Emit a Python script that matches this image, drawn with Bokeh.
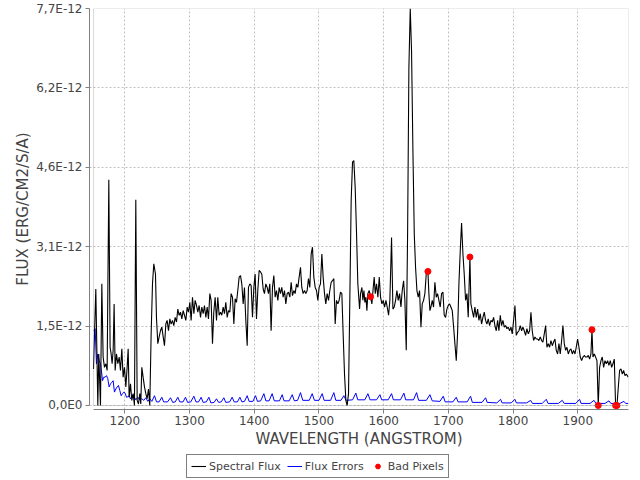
from bokeh.plotting import figure
from bokeh.layouts import column
from bokeh.models import Range1d, FixedTicker, Legend, LegendItem, BoxAnnotation
from bokeh.embed import file_html
from bokeh.resources import INLINE

# ---- data (flux in units of 1E-12 erg/cm2/s/A) ----
flux_wl = [1151.6, 1155.2, 1158.3, 1159.8, 1162.4, 1164.5, 1166.5, 1168.6, 1170.7, 1172.7,
           1175.3, 1177.3, 1178.9, 1180.4, 1182.0, 1183.5, 1185.1, 1187.1, 1189.2, 1191.3,
           1193.3, 1195.4, 1197.4, 1199.5, 1201.6, 1203.6, 1205.2, 1206.7, 1208.8, 1210.8,
           1212.9, 1214.9, 1217.0, 1219.1, 1221.1, 1223.2, 1224.7, 1226.3, 1228.3, 1230.4,
           1232.5, 1234.5, 1236.6, 1238.6, 1240.7, 1242.8, 1244.8, 1247.4, 1248.9, 1251.0,
           1253.1, 1255.1, 1257.2, 1259.3, 1261.3, 1263.4, 1265.4, 1267.5, 1269.6, 1271.6,
           1273.7, 1275.7, 1277.8, 1279.9, 1281.9, 1284.0, 1286.1, 1288.1, 1290.2, 1292.2,
           1294.3, 1296.4, 1298.4, 1300.5, 1302.5, 1304.6, 1306.7, 1308.7, 1310.8, 1312.8,
           1314.9, 1317.0, 1319.0, 1321.1, 1323.1, 1325.2, 1327.3, 1329.3, 1331.4, 1333.4,
           1335.5, 1337.5, 1339.6, 1341.7, 1343.7, 1345.8, 1347.9, 1349.9, 1352.0, 1354.0,
           1356.1, 1358.2, 1360.2, 1362.3, 1364.3, 1366.4, 1368.5, 1370.5, 1372.6, 1374.6,
           1376.7, 1378.8, 1380.8, 1382.9, 1384.9, 1387.0, 1389.1, 1391.1, 1393.2, 1395.2,
           1397.3, 1399.4, 1401.4, 1403.5, 1405.5, 1407.6, 1409.7, 1411.7, 1413.8, 1415.8,
           1417.9, 1420.0, 1422.0, 1424.1, 1426.1, 1428.2, 1430.3, 1432.3, 1434.4, 1436.5,
           1438.5, 1440.6, 1442.6, 1444.7, 1446.8, 1448.8, 1450.9, 1452.9, 1455.0, 1457.1,
           1459.1, 1461.2, 1463.2, 1465.3, 1467.4, 1469.4, 1471.5, 1473.5, 1475.6, 1477.7,
           1479.7, 1481.8, 1483.8, 1485.9, 1488.0, 1490.0, 1492.1, 1494.2, 1496.2, 1498.3,
           1500.3, 1502.4, 1504.5, 1506.5, 1508.6, 1510.6, 1512.7, 1514.8, 1516.8, 1518.9,
           1520.9, 1523.0, 1525.1, 1527.1, 1529.2, 1531.2, 1533.3, 1535.4, 1537.4, 1539.5,
           1541.6, 1543.6, 1545.7, 1547.7, 1549.8, 1551.9, 1553.9, 1556.0, 1558.1, 1560.1,
           1562.8, 1564.3, 1566.4, 1567.9, 1569.5, 1571.0, 1572.6, 1574.1, 1575.6, 1577.7,
           1579.8, 1581.8, 1583.9, 1585.4, 1587.0, 1589.0, 1591.1, 1593.2, 1595.2, 1597.3,
           1599.3, 1601.4, 1603.5, 1605.5, 1607.6, 1609.6, 1612.2, 1614.3, 1616.3, 1618.4,
           1620.5, 1622.5, 1624.6, 1626.7, 1628.7, 1630.8, 1632.8, 1634.9, 1637.0, 1639.0,
           1641.1, 1643.1, 1645.2, 1647.3, 1649.3, 1651.4, 1653.4, 1655.5, 1657.6, 1659.6,
           1661.7, 1663.7, 1665.8, 1668.4, 1669.9, 1671.5, 1673.0, 1675.1, 1677.1, 1679.2,
           1681.3, 1683.3, 1685.4, 1687.4, 1689.5, 1691.6, 1693.6, 1695.7, 1697.7, 1699.8,
           1701.9, 1703.9, 1706.0, 1708.1, 1710.1, 1712.2, 1714.2, 1716.3, 1718.4, 1720.4,
           1722.5, 1724.5, 1726.6, 1728.7, 1730.7, 1733.3, 1734.8, 1736.9, 1739.0, 1741.0,
           1743.1, 1745.2, 1747.2, 1749.3, 1751.3, 1753.4, 1755.5, 1757.5, 1759.6, 1761.6,
           1763.7, 1765.8, 1767.8, 1769.9, 1771.9, 1774.0, 1776.1, 1778.1, 1780.2, 1782.2,
           1784.3, 1786.4, 1788.4, 1790.5, 1792.5, 1794.6, 1796.7, 1798.7, 1800.8, 1802.9,
           1804.9, 1807.0, 1809.0, 1811.1, 1813.2, 1815.2, 1817.3, 1819.3, 1821.4, 1823.5,
           1825.5, 1827.6, 1829.6, 1831.7, 1833.8, 1835.8, 1837.9, 1839.9, 1842.0, 1844.1,
           1846.1, 1848.2, 1850.3, 1852.3, 1854.4, 1856.4, 1858.5, 1860.6, 1862.6, 1864.7,
           1866.7, 1868.8, 1870.9, 1872.9, 1875.0, 1877.0, 1879.1, 1881.2, 1883.2, 1885.3,
           1887.3, 1889.4, 1891.5, 1893.5, 1895.6, 1897.6, 1899.7, 1901.8, 1903.8, 1905.9,
           1908.0, 1910.0, 1912.1, 1914.1, 1916.2, 1918.3, 1920.3, 1921.9, 1923.4, 1925.5,
           1927.5, 1929.6, 1931.6, 1933.7, 1935.8, 1937.8, 1939.9, 1942.0, 1944.0, 1946.1,
           1948.1, 1950.2, 1952.3, 1954.3, 1956.4, 1958.4, 1960.5, 1962.6, 1964.6, 1966.7,
           1968.8, 1970.8, 1972.9, 1974.9, 1978.0]

flux_val = [0.71, 2.26, 0.00, 1.00, 0.00, 2.36, 0.94, 0.74, 0.81, 0.68,
            4.38, 1.13, 1.00, 0.81, 1.07, 1.97, 0.68, 1.00, 0.81, 0.94,
            0.68, 1.10, 0.55, 0.74, 0.36, 0.74, 1.10, 0.16, 0.42, 0.10,
            0.23, 0.00, 3.99, 0.10, 0.03, 0.23, 0.03, 0.74, 0.55, 0.36,
            0.23, 0.13, 0.32, 0.00, 1.39, 2.36, 2.75, 2.55, 1.71, 1.20,
            1.33, 1.45, 1.52, 1.33, 1.16, 1.58, 1.65, 1.45, 1.68, 1.58,
            1.65, 1.55, 1.71, 1.62, 1.87, 1.75, 1.81, 1.68, 1.84, 1.75,
            1.65, 1.91, 1.81, 2.00, 1.65, 2.10, 1.78, 2.04, 1.94, 1.81,
            1.94, 1.71, 1.91, 1.78, 1.94, 1.71, 1.91, 1.68, 2.17, 2.04,
            1.20, 1.81, 2.10, 1.65, 2.10, 1.75, 1.81, 1.75, 1.91, 1.78,
            2.00, 1.71, 1.84, 1.81, 2.17, 2.10, 1.58, 2.07, 2.00, 2.23,
            2.49, 2.52, 2.36, 1.97, 2.29, 1.65, 1.16, 2.29, 2.36, 2.33,
            1.71, 2.29, 2.55, 1.68, 2.23, 2.62, 2.59, 2.55, 2.26, 2.17,
            2.36, 2.29, 2.17, 2.36, 1.45, 2.29, 2.52, 2.10, 2.23, 2.04,
            2.29, 2.17, 2.29, 2.10, 2.23, 1.97, 2.17, 2.20, 2.10, 2.39,
            2.13, 2.23, 2.17, 2.36, 2.29, 2.49, 2.68, 2.29, 2.17, 2.23,
            2.17, 2.23, 2.46, 2.29, 2.94, 3.07, 2.49, 2.29, 2.23, 2.04,
            2.29, 2.36, 2.94, 2.49, 2.17, 1.97, 2.17, 2.04, 2.23, 2.39,
            2.42, 2.46, 1.58, 2.04, 1.97, 2.04, 2.20, 2.17, 1.39, 0.61,
            0.10, 0.00, 0.23, 2.04, 3.98, 4.72, 4.75, 4.23, 3.33, 2.36,
            1.87, 2.17, 2.29, 2.04, 2.23, 2.00, 2.10, 1.84, 2.17, 2.23,
            2.11, 1.97, 2.29, 2.49, 2.17, 2.36, 2.10, 2.49, 2.10, 1.97,
            2.04, 1.91, 2.04, 1.91, 1.75, 2.04, 3.26, 1.87, 1.91, 2.04,
            2.23, 2.04, 2.17, 1.91, 2.23, 2.42, 2.04, 1.07, 3.33, 6.56,
            7.70, 6.88, 4.95, 3.33, 2.68, 2.23, 2.10, 2.23, 1.52, 1.97,
            2.04, 2.17, 2.55, 2.60, 2.17, 1.84, 1.91, 2.04, 1.91, 2.39,
            2.10, 2.17, 2.04, 1.91, 2.17, 2.20, 1.75, 1.71, 1.87, 1.94,
            1.97, 1.91, 1.84, 1.52, 1.20, 0.87, 1.39, 2.36, 3.01, 3.54,
            2.94, 2.55, 2.04, 2.17, 1.71, 2.88, 1.97, 1.84, 1.71, 1.91,
            1.71, 1.87, 1.65, 1.78, 1.58, 1.71, 1.81, 1.65, 1.58, 1.68,
            1.55, 1.65, 1.62, 1.71, 1.55, 1.45, 1.65, 1.45, 1.75, 1.55,
            1.65, 1.52, 1.55, 1.49, 1.52, 1.45, 1.52, 1.39, 1.65, 1.94,
            1.36, 1.42, 1.45, 1.55, 1.45, 1.52, 1.45, 1.36, 1.49, 1.39,
            1.45, 1.81, 1.45, 1.26, 1.33, 1.29, 1.29, 1.26, 1.33, 1.26,
            1.23, 1.39, 1.55, 1.13, 1.20, 1.13, 1.26, 1.16, 1.23, 1.29,
            1.07, 1.00, 1.20, 1.00, 1.26, 1.55, 1.20, 1.07, 1.13, 1.00,
            1.07, 1.10, 1.00, 1.07, 1.00, 1.13, 1.29, 1.13, 0.94, 0.87,
            0.94, 0.97, 0.94, 0.94, 0.97, 0.90, 1.00, 1.47, 0.94, 1.00,
            0.94, 0.87, 0.00, 0.74, 0.87, 0.94, 0.74, 0.87, 0.81, 0.87,
            0.78, 0.87, 0.74, 0.81, 0.90, 0.00, 0.00, 0.36, 0.68, 0.71,
            0.61, 0.68, 0.58, 0.61, 0.55]

err_wl = [1152.1, 1154.2, 1156.2, 1158.3, 1160.4, 1162.4, 1164.5, 1165.5, 1167.6, 1169.6,
          1171.7, 1173.7, 1175.8, 1177.9, 1179.9, 1182.0, 1184.0, 1186.1, 1188.2, 1190.2,
          1192.3, 1194.4, 1196.4, 1198.5, 1200.5, 1202.6, 1204.7, 1206.7, 1208.8, 1210.8,
          1212.9, 1214.9, 1217.0, 1220.1, 1223.2, 1226.3, 1229.4, 1232.5, 1235.6, 1238.6,
          1241.8, 1245.9, 1249.0, 1253.0, 1257.2, 1260.0, 1266.0, 1270.6, 1274.0, 1278.0,
          1281.9, 1285.0, 1290.0, 1293.8, 1297.0, 1302.0, 1306.7, 1310.0, 1314.0, 1318.0,
          1321.0, 1326.0, 1329.9, 1333.0, 1338.0, 1341.7, 1345.0, 1349.0, 1353.0, 1356.0,
          1362.0, 1365.9, 1369.0, 1374.0, 1377.8, 1381.0, 1385.0, 1389.1, 1392.0, 1398.0,
          1402.0, 1405.0, 1410.0, 1414.9, 1418.0, 1423.0, 1427.7, 1431.0, 1439.0, 1443.2,
          1446.0, 1454.0, 1458.7, 1462.0, 1467.0, 1471.5, 1475.0, 1485.0, 1489.6, 1493.0,
          1500.0, 1505.0, 1508.0, 1518.0, 1523.0, 1526.0, 1534.0, 1538.5, 1542.0, 1552.0,
          1557.0, 1560.0, 1571.0, 1575.6, 1579.0, 1589.0, 1594.2, 1597.0, 1607.0, 1612.2,
          1615.0, 1626.0, 1631.3, 1634.0, 1646.0, 1650.9, 1654.0, 1666.0, 1671.5, 1675.0,
          1687.0, 1692.1, 1695.0, 1707.0, 1712.2, 1715.0, 1729.0, 1734.3, 1737.0, 1752.0,
          1757.5, 1760.0, 1775.0, 1780.7, 1783.0, 1797.0, 1802.9, 1805.0, 1821.0, 1827.1,
          1830.0, 1845.0, 1851.3, 1854.0, 1870.0, 1876.0, 1879.0, 1897.0, 1902.8, 1905.0,
          1919.0, 1925.0, 1928.0, 1942.0, 1948.2, 1951.0, 1965.0, 1971.3, 1974.0, 1978.0]

err_val = [1.45, 1.49, 0.81, 1.00, 0.87, 0.81, 0.61, 0.48, 0.55, 0.55,
           0.58, 0.52, 0.36, 0.42, 0.45, 0.48, 0.26, 0.32, 0.36, 0.39,
           0.29, 0.19, 0.23, 0.26, 0.24, 0.16, 0.17, 0.19, 0.13, 0.17,
           0.21, 0.16, 0.11, 0.16, 0.11, 0.13, 0.10, 0.15, 0.08, 0.13,
           0.08, 0.19, 0.07, 0.07, 0.16, 0.07, 0.07, 0.15, 0.06, 0.07,
           0.16, 0.07, 0.07, 0.16, 0.06, 0.07, 0.18, 0.07, 0.07, 0.16,
           0.06, 0.07, 0.16, 0.05, 0.06, 0.13, 0.06, 0.07, 0.15, 0.06,
           0.07, 0.16, 0.07, 0.07, 0.16, 0.07, 0.08, 0.19, 0.08, 0.08,
           0.19, 0.08, 0.09, 0.23, 0.09, 0.09, 0.23, 0.09, 0.09, 0.21,
           0.09, 0.09, 0.21, 0.09, 0.10, 0.25, 0.10, 0.10, 0.23, 0.10,
           0.10, 0.23, 0.10, 0.10, 0.25, 0.10, 0.10, 0.19, 0.10, 0.11,
           0.24, 0.11, 0.11, 0.23, 0.11, 0.11, 0.21, 0.11, 0.11, 0.23,
           0.11, 0.11, 0.24, 0.11, 0.11, 0.25, 0.10, 0.10, 0.21, 0.09,
           0.08, 0.18, 0.07, 0.07, 0.16, 0.07, 0.07, 0.18, 0.06, 0.06,
           0.15, 0.06, 0.05, 0.12, 0.05, 0.05, 0.12, 0.05, 0.05, 0.10,
           0.04, 0.04, 0.12, 0.04, 0.04, 0.10, 0.04, 0.04, 0.12, 0.04,
           0.04, 0.10, 0.04, 0.04, 0.09, 0.04, 0.04, 0.08, 0.04, 0.04]

bad_wl = [1579.8, 1668.4, 1733.3, 1921.9, 1931.6, 1958.4, 1960.5]
bad_val = [2.11, 2.60, 2.88, 1.47, 0.00, 0.00, 0.00]

x_ticks = [1200, 1300, 1400, 1500, 1600, 1700, 1800, 1900]
y_ticks = [0.0, 1.54, 3.08, 4.62, 6.16, 7.7]
y_tick_labels = ["0,0E0", "1,5E-12", "3,1E-12", "4,6E-12", "6,2E-12", "7,7E-12"]

x_label = "WAVELENGTH (ANGSTROM)"
y_label = "FLUX (ERG/CM2/S/A)"
series_names = ["Spectral Flux", "Flux Errors", "Bad Pixels"]

# ---- styles ----
FONT = "DejaVu Sans"
TXT = "#444444"
AX = "#808080"
C_FLUX, C_ERR, C_BAD = "#000000", "#0000ff", "#ff0000"

# ---- main chart ----
p = figure(width=640, height=454,
           x_range=Range1d(1145.45, 1978.35), y_range=Range1d(-0.0776, 7.7),
           output_backend="svg", toolbar_location=None,
           min_border_left=89, min_border_right=12, min_border_top=8, min_border_bottom=45)
p.outline_line_color = None
p.background_fill_color = "white"
p.border_fill_color = "white"

p.line(err_wl, err_val, line_color=C_ERR, line_width=1)
p.line(flux_wl, flux_val, line_color=C_FLUX, line_width=1.1)
p.scatter(bad_wl, bad_val, marker="circle", size=6, fill_color=C_BAD, line_color=C_BAD)

# inner plot border (axes are offset from the data area)
p.add_layout(BoxAnnotation(left=1151.6, bottom=0, fill_alpha=0, line_color=AX, line_width=1))

for ax in (p.xaxis[0], p.yaxis[0]):
    ax.axis_line_color = AX
    ax.major_tick_line_color = AX
    ax.minor_tick_line_color = None
    ax.major_tick_out = 4
    ax.major_tick_in = 0
    ax.major_label_text_font = FONT
    ax.major_label_text_font_size = "12px"
    ax.major_label_text_color = TXT
    ax.axis_label_text_font = FONT
    ax.axis_label_text_font_size = "15px"
    ax.axis_label_text_font_style = "normal"
    ax.axis_label_text_color = TXT

p.xaxis.ticker = FixedTicker(ticks=x_ticks)
p.xaxis.bounds = (1151.6, 1978.35)
p.xaxis.axis_label = x_label
p.xaxis.major_label_standoff = 2
p.xaxis.axis_label_standoff = 2

p.yaxis.ticker = FixedTicker(ticks=y_ticks)
p.yaxis.bounds = (0, 7.7)
p.yaxis.axis_label = y_label
p.yaxis.major_label_standoff = 3
p.yaxis.axis_label_standoff = 1
p.yaxis.major_label_overrides = {t: s for t, s in zip(y_ticks, y_tick_labels)}

p.xgrid.ticker = FixedTicker(ticks=x_ticks)
p.ygrid.ticker = FixedTicker(ticks=y_ticks)
for g in (p.xgrid[0], p.ygrid[0]):
    g.grid_line_color = "#c0c0c0"
    g.grid_line_dash = "2 2"
    g.grid_line_width = 1

# ---- legend strip below the chart (its own copies of the series lie outside its view) ----
lg = figure(width=640, height=26, x_range=Range1d(0, 1), y_range=Range1d(0, 1),
            x_axis_type=None, y_axis_type=None, output_backend="svg",
            toolbar_location=None, min_border=0)
lg.outline_line_color = None
lg.grid.visible = False
lg.background_fill_color = "white"
lg.border_fill_color = "white"
k_flux = lg.line(flux_wl, flux_val, line_color=C_FLUX, line_width=1.1)
k_err = lg.line(err_wl, err_val, line_color=C_ERR, line_width=1)
k_bad = lg.scatter(bad_wl, bad_val, marker="circle", size=6, fill_color=C_BAD, line_color=C_BAD)

legend = Legend(items=[LegendItem(label=series_names[0], renderers=[k_flux]),
                       LegendItem(label=series_names[1], renderers=[k_err]),
                       LegendItem(label=series_names[2], renderers=[k_bad])],
                orientation="horizontal", location=(97, 2))
legend.label_text_font = FONT
legend.label_text_font_size = "11px"
legend.label_text_color = TXT
legend.glyph_width = 15
legend.glyph_height = 12
legend.label_standoff = 3
legend.label_height = 14
legend.spacing = 6
legend.padding = 4
legend.margin = 0
legend.border_line_color = "#000000"
legend.border_line_width = 1
legend.background_fill_color = "white"
legend.background_fill_alpha = 1.0
lg.add_layout(legend, "center")

page = column(p, lg, spacing=0)
open("out.html", "w").write(file_html(page, INLINE))
